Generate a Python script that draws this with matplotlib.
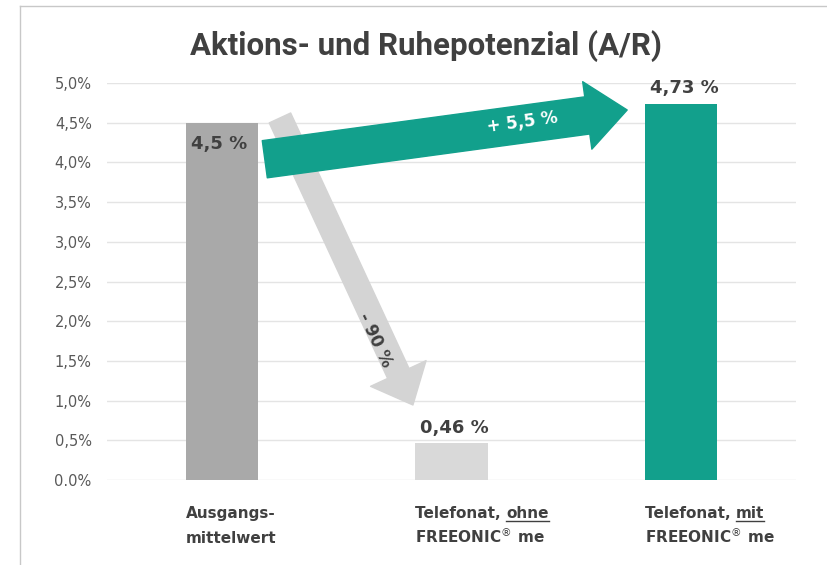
import matplotlib
matplotlib.use("Agg")
import matplotlib.pyplot as plt
from matplotlib.lines import Line2D

# Daten
kategorien = ["Ausgangs-\nmittelwert", "Telefonat, ohne\nFREEONIC$^{®}$ me", "Telefonat, mit\nFREEONIC$^{®}$ me"]
unterstrichen = ["", "ohne", "mit"]
werte = [4.5, 0.46, 4.73]
wert_texte = ["4,5 %", "0,46 %", "4,73 %"]
y_ticks = [0.0, 0.5, 1.0, 1.5, 2.0, 2.5, 3.0, 3.5, 4.0, 4.5, 5.0]
y_labels = ["0.0%", "0,5%", "1,0%", "1,5%", "2,0%", "2,5%", "3,0%", "3,5%", "4,0%", "4,5%", "5,0%"]
pfeil_texte = ["+ 5,5 %", "- 90 %"]

farben = ["#a9a9a9", "#d9d9d9", "#12a08c"]
pfeil_grau = "#d4d4d4"
text_farbe = "#404040"
DPI = 100

fig = plt.figure(figsize=(8.27, 5.65), dpi=DPI)
ax = fig.add_axes([0.1294, 0.1504, 0.8331, 0.7027])

x = list(range(len(werte)))
breite = 0.314
ax.bar(x, werte, width=breite, color=farben, zorder=2)

ax.set_xlim(-0.5, 2.5)
ax.set_ylim(0, 5.0)
ax.set_yticks(y_ticks)
ax.set_yticklabels(y_labels, color="#595959", fontsize=10.5)
ax.tick_params(axis="y", length=0, pad=11)
ax.set_xticks([])
ax.grid(axis="y", color="#e4e4e4", lw=1, zorder=0)
for s in ax.spines.values():
    s.set_visible(False)

# Werte an den Balken
ax.text(x[0] - 0.01, werte[0] - 0.27, wert_texte[0], ha="center", va="center",
        fontsize=13, fontweight="bold", color=text_farbe, zorder=5)
for i in (1, 2):
    ax.annotate(wert_texte[i], xy=(x[i], werte[i]), xytext=(2, 5), textcoords="offset points",
                ha="center", va="bottom", fontsize=13, fontweight="bold", color=text_farbe,
                annotation_clip=False, zorder=5)

# Pfeile
ax.annotate("", xy=(x[1] - 0.168, werte[1] + 0.485), xytext=(x[0] + 0.253, werte[0] + 0.06),
            arrowprops=dict(arrowstyle="simple,head_length=25,head_width=44,tail_width=17",
                            color=pfeil_grau, mutation_scale=1, shrinkA=0, shrinkB=0),
            zorder=3)
ax.annotate("", xy=(x[2] - 0.235, werte[2] - 0.07), xytext=(x[0] + 0.187, werte[0] - 0.46),
            arrowprops=dict(arrowstyle="simple,head_length=29,head_width=49,tail_width=27",
                            color=farben[2], mutation_scale=1, shrinkA=0, shrinkB=0),
            zorder=4, annotation_clip=False)
ax.text(1.307, 4.5, pfeil_texte[0], rotation=7.7, ha="center", va="center",
        fontsize=12, fontweight="bold", color="white", zorder=6)
ax.text(0.667, 1.76, pfeil_texte[1], rotation=-64.5, ha="center", va="center",
        fontsize=12, fontweight="bold", color=text_farbe, zorder=6)

# Titel
fig.text(0.515, 0.918, "Aktions- und Ruhepotenzial (A/R)", ha="center", va="center",
         fontsize=22.5, fontfamily="Roboto", fontweight="bold", color=text_farbe)

# Kategorien mit Unterstreichung
fig.canvas.draw()
renderer = fig.canvas.get_renderer()
trans = ax.get_xaxis_transform()
zeilen_abstand = [-27.5, -45.5]
for i, kat in enumerate(kategorien):
    links = x[i] - breite / 2
    for j, zeile in enumerate(kat.split("\n")):
        wort = unterstrichen[i]
        if j == 0 and wort and zeile.endswith(wort):
            vorne = zeile[: -len(wort)]
            t1 = ax.annotate(vorne, xy=(links, 0), xycoords=trans, xytext=(0, zeilen_abstand[j]),
                             textcoords="offset points", ha="left", va="baseline",
                             fontsize=11, fontweight="bold", color=text_farbe, annotation_clip=False)
            bb1 = t1.get_window_extent(renderer)
            basis = trans.transform((links, 0))
            dx = (bb1.x1 - basis[0]) * 72 / DPI
            t2 = ax.annotate(wort, xy=(links, 0), xycoords=trans, xytext=(dx, zeilen_abstand[j]),
                             textcoords="offset points", ha="left", va="baseline",
                             fontsize=11, fontweight="bold", color=text_farbe, annotation_clip=False)
            bb2 = t2.get_window_extent(renderer)
            y_line = basis[1] + zeilen_abstand[j] * DPI / 72 - 2.5
            p0 = fig.transFigure.inverted().transform((bb2.x0, y_line))
            p1 = fig.transFigure.inverted().transform((bb2.x1, y_line))
            fig.add_artist(Line2D([p0[0], p1[0]], [p0[1], p1[1]], color=text_farbe, lw=1))
        else:
            ax.annotate(zeile, xy=(links, 0), xycoords=trans, xytext=(0, zeilen_abstand[j]),
                        textcoords="offset points", ha="left", va="baseline",
                        fontsize=11, fontweight="bold", color=text_farbe, annotation_clip=False)

# Rahmen links und oben
fig.add_artist(Line2D([20 / 827, 20 / 827], [0, 1 - 6 / 565], color="#c8c8c8", lw=1))
fig.add_artist(Line2D([20 / 827, 1], [1 - 6 / 565, 1 - 6 / 565], color="#c8c8c8", lw=1))

fig.savefig("out.png", dpi=DPI)
